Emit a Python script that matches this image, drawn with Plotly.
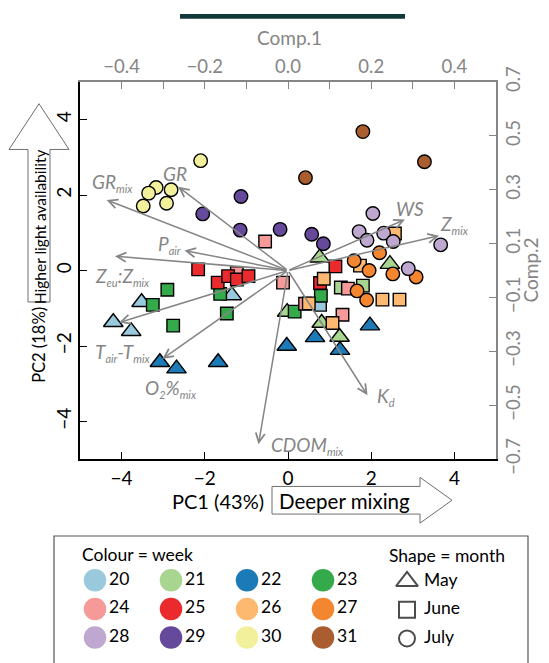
import plotly.graph_objects as go

FIG_W, FIG_H = 549, 663
PLOT_L, PLOT_R, PLOT_T, PLOT_B = 80, 496, 69, 465

FONT = "Lato"
GREY = "#858585"

# ---------------- data ----------------
WEEKS = [20, 21, 22, 23, 24, 25, 26, 27, 28, 29, 30, 31]
WEEK_COLOURS = ["#99C9DD", "#A8D58F", "#1C7BB6", "#34AA4A", "#F59A98", "#EB2A2D",
                "#FDB970", "#F58630", "#BFA8D0", "#654A9C", "#F3F09C", "#AA5E30"]
MONTHS = ["May", "June", "July"]
MONTH_SYMBOLS = ["triangle-up", "square", "circle"]

# sample scores on PC1 / PC2
OBS_WEEK = [20, 20, 20, 20, 20,
            21, 21, 21, 21, 21, 21, 21,
            22, 22, 22, 22, 22, 22, 22,
            23, 23, 23, 23, 23, 23, 23,
            24, 24, 24, 24, 24, 24,
            25, 25, 25, 25, 25, 25, 25,
            26, 26, 26, 26, 26, 26, 26,
            27, 27, 27, 27, 27, 27, 27,
            28, 28, 28, 28, 28, 28, 28,
            29, 29, 29, 29, 29, 29,
            30, 30, 30, 30, 30, 30,
            31, 31, 31]
OBS_MONTH = ["May", "May", "May", "May", "June",
             "May", "May", "May", "May", "May", "June", "June",
             "May", "May", "May", "May", "May", "May", "May",
             "June", "June", "June", "June", "June", "June", "June",
             "June", "June", "June", "June", "June", "June",
             "June", "June", "June", "June", "June", "June", "June",
             "June", "June", "June", "June", "June", "June", "June",
             "July", "July", "July", "July", "July", "July", "July",
             "July", "July", "July", "July", "July", "July", "July",
             "July", "July", "July", "July", "July", "July",
             "July", "July", "July", "July", "July", "July",
             "July", "July", "July"]
OBS_PC1 = [-3.52, -4.20, -3.77, -1.35, 0.77,
           0.76, 2.45, -0.02, 0.81, 1.24, 1.27, 1.80,
           -3.08, -2.68, -1.68, -0.03, 0.65, 1.25, 1.97,
           -2.90, -3.25, -2.76, -1.63, -1.47, 0.79, 0.16,
           -0.55, -0.12, 1.44, 0.41, 1.31, -1.23,
           -2.16, -1.69, -1.44, -1.23, -0.95, 1.14, 0.77,
           2.57, 1.73, 0.86, 0.50, 2.27, 2.68, 1.07,
           2.20, 1.59, 1.95, 2.52, 3.08, 1.66, 1.89,
           2.04, 1.71, 1.90, 2.30, 2.53, 3.67, 2.89,
           -1.13, -2.05, -1.15, -0.19, 0.57, 0.85,
           -2.10, -3.17, -3.35, -2.81, -3.48, -2.92,
           1.80, 3.28, 0.42]
OBS_PC2 = [-0.84, -1.37, -1.61, -0.66, -0.91,
           0.34, 0.17, -1.10, -1.39, -1.76, -0.45, -0.40,
           -2.43, -2.60, -2.43, -2.00, -1.77, -2.11, -1.46,
           -0.51, -0.91, -1.46, -0.62, -1.14, -0.67, -1.09,
           0.77, -0.32, -0.48, -0.88, -1.17, -0.07,
           0.03, -0.32, -0.15, -0.24, -0.15, 0.11, -0.33,
           0.98, 0.13, -0.22, -0.87, -0.77, -0.77, -1.39,
           0.47, 0.26, 0.00, -0.09, -0.17, -0.54, -0.78,
           1.51, 1.03, 0.80, 0.99, 0.77, 0.68, 0.05,
           1.96, 1.50, 1.07, 1.09, 0.96, 0.71,
           2.91, 2.20, 2.05, 2.14, 1.71, 1.78,
           3.68, 2.88, 2.46]

# variable loadings on Comp.1 / Comp.2
SUB = "<sub><span style='font-size:11px'>{}</span></sub>"
LOAD_LABELS = ["GR" + SUB.format("mix"),
               "GR",
               "P" + SUB.format("air"),
               "Z" + SUB.format("eu") + ":Z" + SUB.format("mix"),
               "T" + SUB.format("air") + "-T" + SUB.format("mix"),
               "O" + SUB.format("2") + "%" + SUB.format("mix"),
               "CDOM" + SUB.format("mix"),
               "K" + SUB.format("d"),
               "WS",
               "Z" + SUB.format("mix")]
LOAD_COMP1 = [-0.436, -0.264, -0.249, -0.416, -0.406, -0.302, -0.071, 0.191, 0.281, 0.363]
LOAD_COMP2 = [0.262, 0.311, 0.074, 0.053, -0.193, -0.328, -0.645, -0.463, 0.189, 0.129]

# where each loading label sits (Comp.1 / Comp.2 units)
LABEL_C1 = [-0.421, -0.272, -0.286, -0.397, -0.399, -0.281, 0.047, 0.236, 0.293, 0.401]
LABEL_C2 = [0.326, 0.360, 0.097, -0.024, -0.303, -0.438, -0.650, -0.466, 0.230, 0.171]

X_TICKS = [-4, -2, 0, 2, 4]
Y_TICKS = [-4, -2, 0, 2, 4]
TOP_TICKS = [-0.4, -0.3, -0.2, -0.1, 0.0, 0.1, 0.2, 0.3, 0.4, 0.5]
RIGHT_TICKS = [-0.7, -0.5, -0.3, -0.1, 0.1, 0.3, 0.5, 0.7]


def fmt(v, nd=0):
    s = f"{abs(v):.{nd}f}"
    return ("\u2212" + s) if v < 0 else s


def fx(p):
    return p / FIG_W


def fy(p):
    return 1 - p / FIG_H


MARKER_SIZE = {"May": 17, "June": 12.5, "July": 13.5}

fig = go.Figure()

# ---- sample points, week by week ----
for week, colour in zip(WEEKS, WEEK_COLOURS):
    for month, symbol in zip(MONTHS, MONTH_SYMBOLS):
        idx = [i for i in range(len(OBS_WEEK)) if OBS_WEEK[i] == week and OBS_MONTH[i] == month]
        if not idx:
            continue
        fig.add_trace(go.Scatter(
            x=[OBS_PC1[i] for i in idx], y=[OBS_PC2[i] for i in idx],
            mode="markers", xaxis="x", yaxis="y", hoverinfo="skip", showlegend=False,
            marker=dict(symbol=symbol, size=MARKER_SIZE[month], color=colour,
                        line=dict(color="black", width=1.4)),
        ))

# anchor trace for the loading axes
fig.add_trace(go.Scatter(x=LOAD_COMP1, y=LOAD_COMP2, mode="markers", xaxis="x2", yaxis="y2",
                         marker=dict(size=1, opacity=0), hoverinfo="skip", showlegend=False))

# ---- loading arrows and labels ----
for name, c1, c2, lx, ly in zip(LOAD_LABELS, LOAD_COMP1, LOAD_COMP2, LABEL_C1, LABEL_C2):
    fig.add_annotation(x=c1, y=c2, xref="x2", yref="y2", ax=0, ay=0, axref="x2", ayref="y2",
                       text="", showarrow=True, arrowhead=5, arrowsize=1.2, arrowwidth=1.5,
                       arrowcolor=GREY, standoff=0, startstandoff=0)
    fig.add_annotation(x=lx, y=ly, xref="x2", yref="y2", text="<i>" + name + "</i>",
                       showarrow=False, xanchor="center", yanchor="middle",
                       font=dict(family=FONT, size=19, color=GREY))

# ---- custom legend (own little axis in the bottom margin) ----
LEG_TOP = 540
leg_col_x = [95, 171, 247, 323]
leg_row_y = [592, 622, 652]
wk_x = [leg_col_x[i % 4] for i in range(len(WEEKS))]
wk_y = [leg_row_y[i // 4] for i in range(len(WEEKS))]
fig.add_trace(go.Scatter(
    x=wk_x, y=wk_y, mode="markers",
    marker=dict(symbol="circle", size=22.5, color=WEEK_COLOURS, line=dict(width=0)),
    xaxis="x3", yaxis="y3", hoverinfo="skip", showlegend=False, cliponaxis=False,
))
fig.add_trace(go.Scatter(
    x=[x + 14 for x in wk_x], y=wk_y, mode="text", text=[str(w) for w in WEEKS],
    textposition="middle right", textfont=dict(family=FONT, size=17.5, color="black"),
    xaxis="x3", yaxis="y3", hoverinfo="skip", showlegend=False, cliponaxis=False,
))
mo_x = [407, 407, 407]
mo_y = [593, 623, 653]
fig.add_trace(go.Scatter(
    x=mo_x, y=mo_y, mode="markers",
    marker=dict(symbol=[s + "-open" for s in MONTH_SYMBOLS], size=[19, 16, 16], color="black",
                line=dict(width=2, color="black")),
    xaxis="x3", yaxis="y3", hoverinfo="skip", showlegend=False, cliponaxis=False,
))
fig.add_trace(go.Scatter(
    x=[x + 17 for x in mo_x], y=mo_y, mode="text", text=MONTHS, textposition="middle right",
    textfont=dict(family=FONT, size=17.5, color="black"),
    xaxis="x3", yaxis="y3", hoverinfo="skip", showlegend=False, cliponaxis=False,
))

annotations_extra = [
    dict(text="Colour = week", x=fx(80), y=fy(565), xanchor="left", yanchor="middle",
         font=dict(family=FONT, size=17.5, color="black")),
    dict(text="Shape = month", x=fx(387), y=fy(566), xanchor="left", yanchor="middle",
         font=dict(family=FONT, size=17.5, color="black")),
    dict(text="Comp.1", x=fx(289), y=fy(23), xanchor="center", yanchor="middle",
         font=dict(family=FONT, size=19, color=GREY)),
    dict(text="Comp.2", x=fx(531), y=fy(267), xanchor="center", yanchor="middle", textangle=-90,
         font=dict(family=FONT, size=19, color=GREY)),
    dict(text="PC1 (43%)", x=fx(266), y=fy(509), xanchor="right", yanchor="middle",
         font=dict(family=FONT, size=20, color="black")),
    dict(text="Deeper mixing", x=fx(277), y=fy(509), xanchor="left", yanchor="middle",
         font=dict(family=FONT, size=20.5, color="black")),
    dict(text="PC2 (18%)", x=fx(39), y=fy(345), xanchor="center", yanchor="middle", textangle=-90,
         font=dict(family=FONT, size=16.5, color="black")),
    dict(text="Higher light availability", x=fx(39.5), y=fy(221), xanchor="center", yanchor="middle",
         textangle=-90, font=dict(family=FONT, size=15.5, color="black")),
]
for a in annotations_extra:
    fig.add_annotation(xref="paper", yref="paper", showarrow=False, **a)


def path_from(points):
    return "M " + " L ".join(f"{fx(x):.5f},{fy(y):.5f}" for x, y in points) + " Z"


# block arrows beside the axis titles
right_arrow = [(272, 493.5), (420, 493.5), (420, 484), (452, 508), (420, 532), (420, 522.5), (272, 522.5)]
up_arrow = [(28, 300), (28, 140), (9, 140), (39, 92), (69, 140), (50, 140), (50, 300)]

shapes = [
    dict(type="path", path=path_from(right_arrow), xref="paper", yref="paper",
         line=dict(color="#6e6e6e", width=1), fillcolor="rgba(0,0,0,0)"),
    dict(type="path", path=path_from(up_arrow), xref="paper", yref="paper",
         line=dict(color="#6e6e6e", width=1), fillcolor="rgba(0,0,0,0)"),
    # legend frame
    dict(type="rect", xref="paper", yref="paper", x0=fx(54), x1=fx(528), y0=fy(700), y1=fy(545.5),
         line=dict(color="#555555", width=1.2), fillcolor="rgba(0,0,0,0)"),
    # strip along the top edge
    dict(type="rect", xref="paper", yref="paper", x0=fx(180), x1=fx(405), y0=fy(3), y1=fy(-2),
         line=dict(width=0), fillcolor="#123a3a"),
]

axis_common = dict(showgrid=False, zeroline=False, showline=True, ticks="inside", ticklen=7,
                   tickwidth=1.4, fixedrange=True)

fig.update_layout(
    width=FIG_W, height=FIG_H, autosize=False,
    margin=dict(l=0, r=0, t=0, b=0, pad=0),
    paper_bgcolor="white", plot_bgcolor="rgba(0,0,0,0)",
    font=dict(family=FONT),
    showlegend=False,
    shapes=shapes,
    xaxis=dict(domain=[fx(PLOT_L), fx(PLOT_R)], anchor="y", range=[-5, 5],
               tickvals=X_TICKS, ticktext=[fmt(v) for v in X_TICKS],
               linecolor="black", linewidth=1.6, tickcolor="black",
               tickfont=dict(family=FONT, size=19, color="black"), ticklabelstandoff=1,
               **axis_common),
    yaxis=dict(domain=[fy(PLOT_B), fy(PLOT_T)], anchor="x", range=[-5, 5],
               tickvals=Y_TICKS, ticktext=[fmt(v) for v in Y_TICKS], tickangle=-90,
               linecolor="black", linewidth=1.6, tickcolor="black",
               tickfont=dict(family=FONT, size=19, color="black"),
               **axis_common),
    xaxis2=dict(overlaying="x", side="top", anchor="y", range=[-0.5, 0.5],
                tickvals=TOP_TICKS,
                ticktext=[fmt(v, 1) if round(v * 10) % 2 == 0 else "" for v in TOP_TICKS],
                linecolor=GREY, linewidth=1.6, tickcolor=GREY,
                tickfont=dict(family=FONT, size=18.5, color=GREY),
                **axis_common),
    yaxis2=dict(overlaying="y", side="right", anchor="x", range=[-0.7005, 0.7005],
                tickvals=RIGHT_TICKS, ticktext=[fmt(v, 1) for v in RIGHT_TICKS], tickangle=-90,
                linecolor=GREY, linewidth=1.6, tickcolor=GREY,
                tickfont=dict(family=FONT, size=18.5, color=GREY),
                **axis_common),
    xaxis3=dict(domain=[0, 1], anchor="y3", range=[0, FIG_W], visible=False, fixedrange=True),
    yaxis3=dict(domain=[0, fy(LEG_TOP)], anchor="x3", range=[FIG_H, LEG_TOP], visible=False,
                fixedrange=True),
)

fig.write_html("out.html")
